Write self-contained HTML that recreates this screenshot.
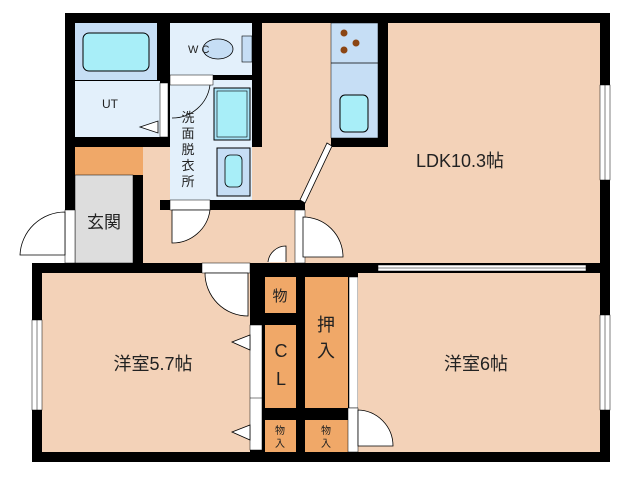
<!DOCTYPE html>
<html><head><meta charset="utf-8"><style>
html,body{margin:0;padding:0;background:#fff;}
svg{display:block}
text{font-family:"Liberation Sans","Noto Sans CJK JP",sans-serif;fill:#222}
</style></head><body>
<svg width="630" height="479" viewBox="0 0 630 479">
<!-- structure black -->
<rect x="65" y="13" width="545" height="260" fill="#000"/>
<rect x="32" y="263" width="578" height="199" fill="#000"/>
<!-- LDK peach -->
<rect x="262" y="23" width="338" height="240" fill="#F3D2B8"/>
<rect x="143" y="147" width="160" height="116" fill="#F3D2B8"/>
<rect x="305" y="200" width="40" height="63" fill="#F3D2B8"/>
<!-- wall washroom bottom -->
<rect x="160" y="200" width="145" height="10" fill="#000"/>
<rect x="295" y="200" width="10" height="63" fill="#000"/>
<!-- bath -->
<rect x="75" y="23" width="82" height="57" fill="#C6DEF5"/>
<rect x="83" y="33" width="66" height="38" rx="6" fill="#A8EEF8" stroke="#000" stroke-width="1"/>
<!-- UT -->
<rect x="75" y="81" width="85" height="56" fill="#E3F0FB"/>
<rect x="160" y="83" width="8" height="54" fill="#fff" stroke="#000" stroke-width="0.5"/>
<polygon points="140,127 158,121 158,133" fill="#fff" stroke="#000" stroke-width="0.8"/>
<text x="110" y="108" font-size="12" text-anchor="middle">UT</text>
<!-- WC -->
<rect x="170" y="23" width="82" height="52" fill="#E3F0FB"/>
<ellipse cx="218" cy="49" rx="15" ry="10" fill="#C6DEF5" stroke="#000" stroke-width="0.8"/>
<rect x="242" y="36" width="10" height="26" fill="#C6DEF5" stroke="#000" stroke-width="0.6"/>
<text x="188" y="53" font-size="11">W C</text>
<!-- washroom -->
<rect x="170" y="75" width="43" height="125" fill="#E3F0FB"/>
<rect x="213" y="75" width="39" height="5" fill="#000"/>
<rect x="213" y="80" width="39" height="120" fill="#E3F0FB"/>
<rect x="170" y="75" width="43" height="10" fill="#fff" stroke="#000" stroke-width="0.5"/>
<path d="M172,118 A38,38 0 0 0 210,85" fill="none" stroke="#000" stroke-width="0.8"/>
<rect x="214" y="88" width="36" height="52" fill="#A8E4F8" stroke="#000" stroke-width="1"/>
<rect x="217" y="91" width="30" height="46" fill="#A8EEF8" stroke="#000" stroke-width="0.6"/>
<rect x="217" y="148" width="33" height="48" fill="#C6DEF5" stroke="#000" stroke-width="1"/>
<rect x="225" y="155" width="17" height="32" rx="5" fill="#A8EEF8" stroke="#000" stroke-width="0.8"/>
<g font-size="13" text-anchor="middle"><text x="188" y="122">洗</text><text x="188" y="138">面</text><text x="188" y="154">脱</text><text x="188" y="170">衣</text><text x="188" y="186">所</text></g>
<rect x="170" y="200" width="40" height="10" fill="#fff" stroke="#000" stroke-width="0.5"/>
<path d="M172,243 A38,38 0 0 0 210,210 L172,210 Z" fill="#fff" stroke="#000" stroke-width="0.8"/>
<!-- kitchen -->
<rect x="378" y="23" width="10" height="124" fill="#000"/>
<rect x="331" y="138" width="57" height="9" fill="#000"/>
<rect x="331" y="23" width="47" height="115" fill="#C6DEF5" stroke="#000" stroke-width="0.5"/>
<line x1="331" y1="63" x2="378" y2="63" stroke="#000" stroke-width="0.8"/>
<circle cx="344" cy="33" r="3.5" fill="#8B4513"/><circle cx="356" cy="43" r="3.5" fill="#8B4513"/><circle cx="344" cy="50" r="3.5" fill="#8B4513"/>
<rect x="340" y="95" width="28" height="37" rx="5" fill="#A8EEF8" stroke="#000" stroke-width="1"/>
<polygon points="327,143 332,146 305,203 300,200" fill="#fff" stroke="#000" stroke-width="0.8"/>
<!-- genkan -->
<rect x="75" y="147" width="68" height="28" fill="#F0A868"/>
<rect x="75" y="175" width="58" height="88" fill="#DDDDDD" stroke="#000" stroke-width="0.5"/>
<text x="104" y="228" font-size="17" text-anchor="middle">玄関</text>
<rect x="65" y="210" width="10" height="53" fill="#fff" stroke="#000" stroke-width="0.5"/>
<path d="M65,212 A45,45 0 0 0 20,255 L65,255 Z" fill="#fff" stroke="#000" stroke-width="0.8"/>
<!-- LDK door -->
<rect x="295" y="210" width="10" height="53" fill="#fff" stroke="#000" stroke-width="0.5"/>
<path d="M303,217 A40,40 0 0 1 343,257 L303,257 Z" fill="#fff" stroke="#000" stroke-width="0.8"/>
<path d="M268,262 A18,18 0 0 1 286,246 L286,262" fill="#fff" stroke="#000" stroke-width="0.8"/>
<text x="460" y="167" font-size="18" text-anchor="middle">LDK10.3帖</text>
<!-- LDK windows -->
<rect x="600" y="85" width="10" height="95" fill="#fff" stroke="#000" stroke-width="0.5"/>
<line x1="605" y1="85" x2="605" y2="180" stroke="#000" stroke-width="0.5"/>
<rect x="378" y="265" width="208" height="6" fill="#fff" stroke="#000" stroke-width="0.5"/>
<line x1="378" y1="268" x2="586" y2="268" stroke="#000" stroke-width="0.5"/>
<!-- left room -->
<rect x="42" y="273" width="208" height="179" fill="#F3D2B8"/>
<rect x="202" y="263" width="48" height="10" fill="#fff" stroke="#000" stroke-width="0.5"/>
<path d="M205,273 A43,43 0 0 0 248,316 L248,273 Z" fill="#fff" stroke="#000" stroke-width="0.8"/>
<rect x="32" y="320" width="10" height="90" fill="#fff" stroke="#000" stroke-width="0.5"/>
<line x1="37" y1="320" x2="37" y2="410" stroke="#000" stroke-width="0.5"/>
<rect x="250" y="325" width="12" height="125" fill="#fff" stroke="#000" stroke-width="0.5"/>
<line x1="250" y1="398" x2="262" y2="398" stroke="#000" stroke-width="0.5"/>
<polygon points="232,342 250,335 250,350" fill="#fff" stroke="#000" stroke-width="0.8"/>
<polygon points="232,432 250,425 250,440" fill="#fff" stroke="#000" stroke-width="0.8"/>
<text x="153" y="370" font-size="18" text-anchor="middle">洋室5.7帖</text>
<!-- closets -->
<rect x="265" y="277" width="31" height="36" fill="#F0A868"/>
<text x="280" y="301" font-size="15" text-anchor="middle">物</text>
<rect x="265" y="325" width="31" height="83" fill="#F0A868"/>
<text x="281" y="357" font-size="18" text-anchor="middle">C</text>
<text x="281" y="385" font-size="18" text-anchor="middle">L</text>
<rect x="305" y="277" width="43" height="131" fill="#F0A868"/>
<text x="326" y="331" font-size="18" text-anchor="middle">押</text>
<text x="326" y="357" font-size="18" text-anchor="middle">入</text>
<rect x="349" y="277" width="9" height="131" fill="#fff" stroke="#000" stroke-width="0.5"/>
<rect x="265" y="420" width="31" height="32" fill="#F0A868"/>
<rect x="305" y="420" width="43" height="32" fill="#F0A868"/>
<g font-size="10" text-anchor="middle"><text x="280" y="434">物</text><text x="280" y="447">入</text><text x="326" y="434">物</text><text x="326" y="447">入</text></g>
<!-- right room -->
<rect x="358" y="273" width="242" height="179" fill="#F3D2B8"/>
<rect x="348" y="408" width="10" height="44" fill="#fff" stroke="#000" stroke-width="0.5"/>
<path d="M358,410 A36,36 0 0 1 393,446 L358,446 Z" fill="#fff" stroke="#000" stroke-width="0.8"/>
<rect x="600" y="315" width="10" height="95" fill="#fff" stroke="#000" stroke-width="0.5"/>
<line x1="605" y1="315" x2="605" y2="410" stroke="#000" stroke-width="0.5"/>
<text x="476" y="370" font-size="18" text-anchor="middle">洋室6帖</text>
</svg>
</body></html>
